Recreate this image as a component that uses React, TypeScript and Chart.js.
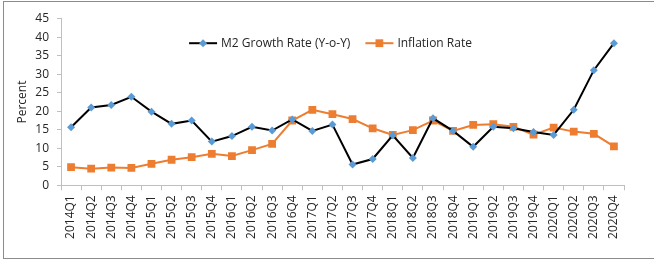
import React, { useEffect, useRef } from 'react';
import { Chart, registerables } from 'chart.js';
Chart.register(...registerables);

const categories = [
  '2014Q1','2014Q2','2014Q3','2014Q4',
  '2015Q1','2015Q2','2015Q3','2015Q4',
  '2016Q1','2016Q2','2016Q3','2016Q4',
  '2017Q1','2017Q2','2017Q3','2017Q4',
  '2018Q1','2018Q2','2018Q3','2018Q4',
  '2019Q1','2019Q2','2019Q3','2019Q4',
  '2020Q1','2020Q2','2020Q3','2020Q4',
];

const m2Growth = [
  15.7, 21.0, 21.7, 23.9,
  19.9, 16.6, 17.5, 11.8,
  13.3, 15.8, 14.8, 17.8,
  14.7, 16.4, 5.6, 7.1,
  13.5, 7.4, 18.1, 14.7,
  10.4, 15.8, 15.4, 14.4,
  13.6, 20.4, 31.1, 38.4,
];

const inflation = [
  4.9, 4.5, 4.8, 4.7,
  5.8, 6.9, 7.6, 8.5,
  7.9, 9.5, 11.2, 17.5,
  20.4, 19.2, 17.9, 15.4,
  13.6, 14.9, 17.5, 14.7,
  16.3, 16.5, 15.8, 13.7,
  15.6, 14.5, 13.9, 10.5,
];

const seriesNames = ['M2 Growth Rate (Y-o-Y)', 'Inflation Rate'];
const yMin = 0;
const yMax = 45;
const yStep = 5;
const yTitle = 'Percent';

const BLUE = '#5B9BD5';
const ORANGE = '#ED7D31';
const BLACK = '#000000';
const AXIS = '#BFBFBF';
const TEXT = '#262626';
const FONT = "'Open Sans', 'Noto Sans', sans-serif";

// Legend drawn inside the plot area (Excel style), from the chart's own datasets.
const insideLegend = {
  id: 'insideLegend',
  afterDraw(chart: any) {
    const { ctx, chartArea } = chart;
    const sym = 28;
    const gapText = 4;
    const gapItem = 15;
    ctx.save();
    ctx.font = `12px ${FONT}`;
    ctx.textBaseline = 'middle';
    ctx.textAlign = 'left';
    const items = chart.data.datasets.map((ds: any) => ({
      ds,
      w: sym + gapText + ctx.measureText(ds.label).width,
    }));
    const total = items.reduce((s: number, it: any) => s + it.w, 0) + gapItem * (items.length - 1);
    const cx = (chartArea.left + chartArea.right) / 2 - 12;
    const y = chartArea.top + 24.5;
    let x = cx - total / 2;
    items.forEach((it: any) => {
      const ds = it.ds;
      ctx.strokeStyle = ds.borderColor;
      ctx.lineWidth = ds.borderWidth;
      ctx.beginPath();
      ctx.moveTo(x, y);
      ctx.lineTo(x + sym, y);
      ctx.stroke();
      ctx.fillStyle = ds.pointBackgroundColor;
      const mx = x + sym / 2;
      if (ds.pointStyle === 'rectRot') {
        const r = ds.pointRadius;
        ctx.beginPath();
        ctx.moveTo(mx, y - r);
        ctx.lineTo(mx + r, y);
        ctx.lineTo(mx, y + r);
        ctx.lineTo(mx - r, y);
        ctx.closePath();
        ctx.fill();
      } else {
        const h = ds.pointRadius * Math.SQRT1_2;
        ctx.fillRect(mx - h, y - h, 2 * h, 2 * h);
      }
      ctx.fillStyle = TEXT;
      ctx.fillText(ds.label, x + sym + gapText, y + 0.5);
      x += it.w + gapItem;
    });
    ctx.restore();
  },
};

export default function App() {
  const ref = useRef<HTMLCanvasElement>(null);

  useEffect(() => {
    if (!ref.current) return;
    const chart = new Chart(ref.current, {
      type: 'line',
      data: {
        labels: categories,
        datasets: [
          {
            label: seriesNames[0],
            data: m2Growth,
            borderColor: BLACK,
            borderWidth: 2,
            pointStyle: 'rectRot',
            pointRadius: 4,
            pointBackgroundColor: BLUE,
            pointBorderColor: BLUE,
            pointBorderWidth: 0,
            tension: 0,
          },
          {
            label: seriesNames[1],
            data: inflation,
            borderColor: ORANGE,
            borderWidth: 2,
            pointStyle: 'rect',
            pointRadius: 5.5,
            pointBackgroundColor: ORANGE,
            pointBorderColor: ORANGE,
            pointBorderWidth: 0,
            tension: 0,
          },
        ],
      },
      plugins: [insideLegend],
      options: {
        animation: false,
        responsive: false,
        maintainAspectRatio: false,
        layout: { padding: { left: 0, top: 18.7, right: 30, bottom: 0 } },
        plugins: {
          tooltip: { enabled: false },
          legend: { display: false },
        },
        scales: {
          x: {
            type: 'category',
            offset: true,
            grid: {
              display: true,
              drawOnChartArea: false,
              drawTicks: true,
              tickLength: 5,
              color: AXIS,
              offset: true,
            },
            border: { display: true, color: AXIS, width: 1 },
            ticks: {
              autoSkip: false,
              minRotation: 90,
              maxRotation: 90,
              padding: 5,
              color: TEXT,
              font: { family: FONT, size: 12 },
            },
            afterFit: (scale: any) => {
              scale.height = 262 - 185.3;
            },
          },
          y: {
            min: yMin,
            max: yMax,
            grid: {
              display: true,
              drawOnChartArea: false,
              drawTicks: true,
              tickLength: 4,
              color: AXIS,
            },
            border: { display: true, color: AXIS, width: 1 },
            ticks: {
              stepSize: yStep,
              padding: 8,
              color: TEXT,
              font: { family: FONT, size: 12 },
            },
            title: {
              display: true,
              text: yTitle,
              color: TEXT,
              font: { family: FONT, size: 12 },
              padding: { top: 15, bottom: 0 },
            },
            afterFit: (scale: any) => {
              scale.width = 61;
            },
          },
        },
      },
    });
    return () => chart.destroy();
  }, []);

  return (
    <div style={{ position: 'absolute', left: 0, top: 0, width: 654, height: 262, overflow: 'hidden', background: '#fff' }}>
      <div
        style={{
          position: 'absolute',
          left: 3,
          top: 1,
          width: 700,
          height: 258,
          border: '1px solid #8C8C8C',
          boxSizing: 'border-box',
        }}
      />
      <canvas ref={ref} width={654} height={262} style={{ position: 'absolute', left: 0, top: 0 }} />
    </div>
  );
}
